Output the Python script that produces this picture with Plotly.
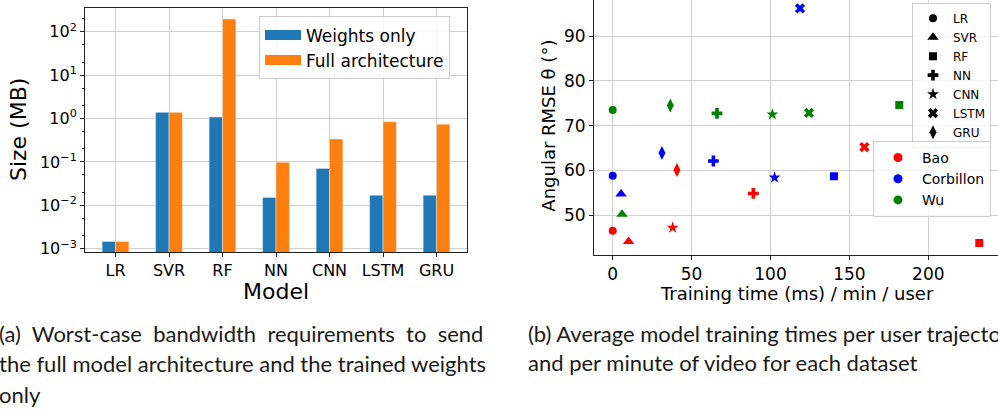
import plotly.graph_objects as go

W, H = 998, 413

# ---- (a) model sizes ----
models = ["LR", "SVR", "RF", "NN", "CNN", "LSTM", "GRU"]
weights_mb = [0.00147, 1.39, 1.09, 0.0152, 0.0705, 0.0171, 0.0171]
full_mb = [0.00147, 1.39, 197, 0.098, 0.336, 0.84, 0.74]
size_tickvals = [1e-3, 1e-2, 1e-1, 1e0, 1e1, 1e2]
size_ticktext = ["10<sup>−3</sup>", "10<sup>−2</sup>", "10<sup>−1</sup>",
                 "10<sup>0</sup>", "10<sup>1</sup>", "10<sup>2</sup>"]

# ---- (b) training time vs. angular RMSE, per dataset, in the order of `models` ----
datasets = ["Bao", "Corbillon", "Wu"]
bao_time = [0, 10.1, 232.3, 89.1, 38.0, 159.5, 40.7]
bao_rmse = [46.5, 44.1, 43.75, 54.85, 47.2, 65.2, 60.1]
corb_time = [0, 5.3, 140.2, 63.8, 102.6, 118.7, 31.2]
corb_rmse = [58.8, 54.7, 58.7, 62.1, 58.4, 96.2, 63.9]
wu_time = [0, 5.9, 181.6, 66.1, 101.2, 124.4, 36.5]
wu_rmse = [73.5, 50.2, 74.6, 72.75, 72.5, 72.85, 74.5]

BLUE, ORANGE = "#1f77b4", "#ff7f0e"
DS_COLORS = {"Bao": "#ff0000", "Corbillon": "#0000ff", "Wu": "#008000"}
SYMBOLS = {"LR": "circle", "SVR": "triangle-up", "RF": "square", "NN": "cross",
           "CNN": "star", "LSTM": "x", "GRU": "diamond-tall"}
SIZES = {"LR": 8, "SVR": 10, "RF": 8, "NN": 9, "CNN": 9, "LSTM": 9, "GRU": 10}
MPL = "DejaVu Sans"
GRID = "#cfcfcf"
SPINE = "#222222"


def px(x):
    return x / W


def py(y):
    return 1 - y / H


fig = go.Figure()

# grouped bars on a log axis
fig.add_trace(go.Bar(x=models, y=weights_mb, marker_color=BLUE, name="Weights only",
                     showlegend=False, xaxis="x", yaxis="y"))
fig.add_trace(go.Bar(x=models, y=full_mb, marker_color=ORANGE, name="Full architecture",
                     showlegend=False, xaxis="x", yaxis="y"))
# wide swatches for the bar legend
for nm, col in [("Weights only", BLUE), ("Full architecture", ORANGE)]:
    fig.add_trace(go.Scatter(x=[None], y=[None], mode="lines", name=nm,
                             line=dict(color=col, width=12), legend="legend",
                             xaxis="x", yaxis="y"))

# scatter: one trace per dataset, marker shape per model
for ds, t, r in [("Bao", bao_time, bao_rmse), ("Corbillon", corb_time, corb_rmse),
                 ("Wu", wu_time, wu_rmse)]:
    fig.add_trace(go.Scatter(
        x=t, y=r, mode="markers", name=ds, showlegend=False,
        marker=dict(color=DS_COLORS[ds], symbol=[SYMBOLS[m] for m in models],
                    size=[SIZES[m] for m in models], opacity=1, line=dict(width=0)),
        xaxis="x2", yaxis="y2"))

# legend of model shapes
for m in models:
    fig.add_trace(go.Scatter(x=[None], y=[None], mode="markers", name=m,
                             marker=dict(color="black", symbol=SYMBOLS[m], size=SIZES[m],
                                         opacity=1),
                             legend="legend2", xaxis="x2", yaxis="y2"))
# legend of dataset colours
for ds in datasets:
    fig.add_trace(go.Scatter(x=[None], y=[None], mode="markers", name=ds,
                             marker=dict(color=DS_COLORS[ds], symbol="circle", size=9,
                                         opacity=1),
                             legend="legend3", xaxis="x2", yaxis="y2"))

ann = []


def label(text, x, y, size, angle=0, xanchor="center", yanchor="middle", family=MPL,
          color="black"):
    ann.append(dict(text=text, x=px(x), y=py(y), xref="paper", yref="paper",
                    showarrow=False, textangle=angle, xanchor=xanchor, yanchor=yanchor,
                    font=dict(family=family, size=size, color=color)))


label("Size (MB)", 18, 132, 22, angle=-90)
label("Model", 276, 296, 22)
label("Angular RMSE θ (°)", 549, 127.5, 18, angle=-90)
label("Training time (ms) / min / user", 797, 298, 18)

CAP = "Lato"
CAPC = "#1a1a1a"
CS = 22
label("(a)  Worst-case  bandwidth  requirements  to  send", -3, 338, CS,
      xanchor="left", family=CAP, color=CAPC)
label("the full model architecture and the trained weights", -3, 369, CS,
      xanchor="left", family=CAP, color=CAPC)
label("only", -3, 400, CS, xanchor="left", family=CAP, color=CAPC)
label("(b) Average model training times per user trajectory", 526, 338, CS,
      xanchor="left", family=CAP, color=CAPC)
label("and per minute of video for each dataset", 526, 368, CS,
      xanchor="left", family=CAP, color=CAPC)

axis_common = dict(showgrid=True, gridcolor=GRID, gridwidth=1, zeroline=False,
                   showline=True, linecolor=SPINE, linewidth=1, ticks="outside",
                   ticklen=4, tickcolor=SPINE, tickwidth=1)

fig.update_layout(
    width=W, height=H, margin=dict(l=0, r=0, t=0, b=0),
    paper_bgcolor="white", plot_bgcolor="white",
    font=dict(family=MPL, color="black"),
    barmode="group", bargap=0.5, bargroupgap=0,
    xaxis=dict(domain=[px(85), px(467)], range=[-0.57, 6.57], anchor="y",
               mirror=True, tickfont=dict(size=16), **axis_common),
    yaxis=dict(domain=[py(256), py(8)], type="log", range=[-3.084, 2.552], anchor="x",
               mirror=True, tickvals=size_tickvals, ticktext=size_ticktext,
               tickfont=dict(size=16),
               minor=dict(ticks="outside", ticklen=2, tickcolor=SPINE, showgrid=False),
               **axis_common),
    xaxis2=dict(domain=[px(594), 1.0], range=[-11.85, 244.17], anchor="y2",
                tickvals=[0, 50, 100, 150, 200], tickfont=dict(size=17), **axis_common),
    yaxis2=dict(domain=[py(258.3), 1.0], range=[41.19, 98.08], anchor="x2",
                tickvals=[50, 60, 70, 80, 90], tickfont=dict(size=17), **axis_common),
    legend=dict(x=px(259), y=py(16.7), xanchor="left", yanchor="top",
                bgcolor="rgba(255,255,255,0.8)", bordercolor="#cccccc", borderwidth=1,
                font=dict(size=17), itemwidth=36, tracegroupgap=0),
    legend2=dict(x=px(991), y=py(2.7), xanchor="right", yanchor="top",
                 bgcolor="rgba(255,255,255,0.8)", bordercolor="#cccccc", borderwidth=1,
                 font=dict(size=12), itemwidth=30),
    legend3=dict(x=px(991), y=py(143), xanchor="right", yanchor="top",
                 bgcolor="rgba(255,255,255,0.8)", bordercolor="#cccccc", borderwidth=1,
                 font=dict(size=14), itemwidth=38),
    annotations=ann,
)

fig.write_html("out.html")
